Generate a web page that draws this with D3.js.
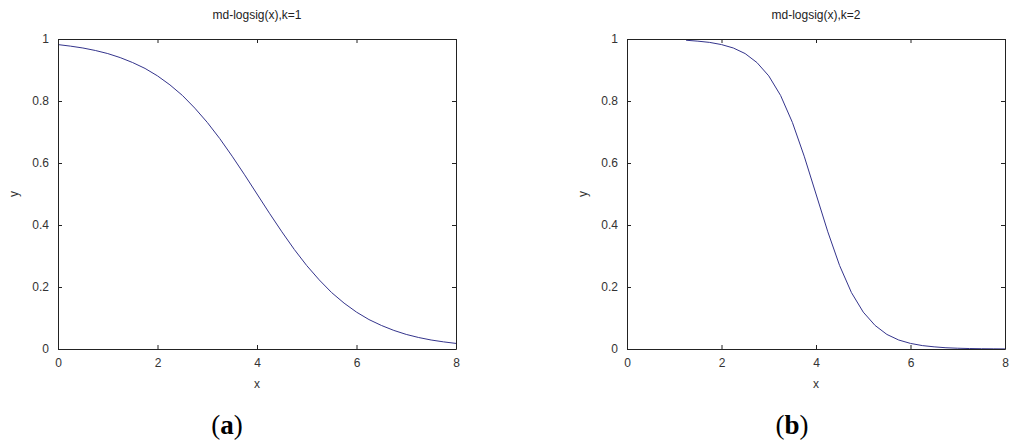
<!DOCTYPE html>
<html><head><meta charset="utf-8">
<script src="https://cdn.jsdelivr.net/npm/d3@7"></script>
<style>body{margin:0;background:#fff}svg{display:block}</style>
</head><body>
<svg id="c" width="1024" height="448"></svg>
<script>
// Panel (a): k=1
const xA = [0,0.25,0.5,0.75,1,1.25,1.5,1.75,2,2.25,2.5,2.75,3,3.25,3.5,3.75,4,4.25,4.5,4.75,5,5.25,5.5,5.75,6,6.25,6.5,6.75,7,7.25,7.5,7.75,8];
const yA = [0.982,0.977,0.971,0.963,0.953,0.940,0.924,0.905,0.881,0.852,0.818,0.777,0.731,0.679,0.622,0.562,0.5,0.438,0.378,0.321,0.269,0.223,0.182,0.148,0.119,0.095,0.076,0.060,0.047,0.037,0.029,0.023,0.018];
// Panel (b): k=2
const xB = [1.25,1.5,1.75,2,2.25,2.5,2.75,3,3.25,3.5,3.75,4,4.25,4.5,4.75,5,5.25,5.5,5.75,6,6.25,6.5,6.75,7,7.25,7.5,7.75,8];
const yB = [0.996,0.993,0.989,0.982,0.971,0.953,0.924,0.881,0.818,0.731,0.622,0.5,0.378,0.269,0.182,0.119,0.076,0.047,0.029,0.018,0.011,0.007,0.004,0.0025,0.0015,0.0009,0.0006,0.0003];
const xTicks = [0,2,4,6,8];
const yTicks = [0,0.2,0.4,0.6,0.8,1];
const titles = ["md-logsig(x),k=1","md-logsig(x),k=2"];
const captions = ["(a)","(b)"];

const svg = d3.select("#c");
const panels = [
  {x0:58, x1:456, y0:39, y1:349, xs:xA, ys:yA, title:titles[0], cap:captions[0], capX:227},
  {x0:627, x1:1005, y0:39, y1:349, xs:xB, ys:yB, title:titles[1], cap:captions[1], capX:792}
];
const font = "'Liberation Sans', Arial, sans-serif";
panels.forEach(p => {
  const x = d3.scaleLinear().domain([0,8]).range([p.x0,p.x1]);
  const y = d3.scaleLinear().domain([0,1]).range([p.y1,p.y0]);
  const g = svg.append("g");
  g.append("path").datum(p.xs.map((v,i)=>[v,p.ys[i]]))
    .attr("fill","none").attr("stroke","#34348c").attr("stroke-width",1)
    .attr("d", d3.line().x(d=>x(d[0])).y(d=>y(d[1])));
  const tl = -4;
  const ax = (axis, tx, ty, labels) => {
    const a = g.append("g").attr("transform",`translate(${tx},${ty})`).call(axis);
    a.select(".domain").attr("stroke","#222");
    a.selectAll(".tick line").attr("stroke","#222");
    a.selectAll("text").attr("fill","#333").style("font-family",font).style("font-size","12px");
    if(!labels) a.selectAll("text").remove();
    return a;
  };
  ax(d3.axisBottom(x).tickValues(xTicks).tickSize(tl).tickPadding(9).tickFormat(d3.format("d")).tickSizeOuter(0), 0, p.y1, true);
  ax(d3.axisTop(x).tickValues(xTicks).tickSize(tl).tickSizeOuter(0), 0, p.y0, false);
  ax(d3.axisLeft(y).tickValues(yTicks).tickSize(tl).tickPadding(9).tickFormat(d=>d===0||d===1?d3.format("d")(d):d3.format(".1f")(d)).tickSizeOuter(0), p.x0, 0, true);
  ax(d3.axisRight(y).tickValues(yTicks).tickSize(tl).tickSizeOuter(0), p.x1, 0, false);
  g.append("text").attr("x",(p.x0+p.x1)/2).attr("y",19).attr("text-anchor","middle")
    .style("font-family",font).style("font-size","12px").attr("fill","#222").text(p.title);
  g.append("text").attr("x",(p.x0+p.x1)/2).attr("y",388).attr("text-anchor","middle")
    .style("font-family",font).style("font-size","12px").attr("fill","#333").text("x");
  g.append("text").attr("transform",`translate(${p.x0-40},${(p.y0+p.y1)/2}) rotate(-90)`).attr("text-anchor","middle")
    .style("font-family",font).style("font-size","12px").attr("fill","#333").text("y");
  const cap = g.append("text").attr("x",p.capX).attr("y",434).attr("text-anchor","middle")
    .style("font-family","'Liberation Serif','Times New Roman',serif").style("font-size","27px").attr("fill","#000");
  cap.append("tspan").text("(");
  cap.append("tspan").style("font-weight","bold").text(p.cap.slice(1,-1));
  cap.append("tspan").text(")");
});
</script>
</body></html>
